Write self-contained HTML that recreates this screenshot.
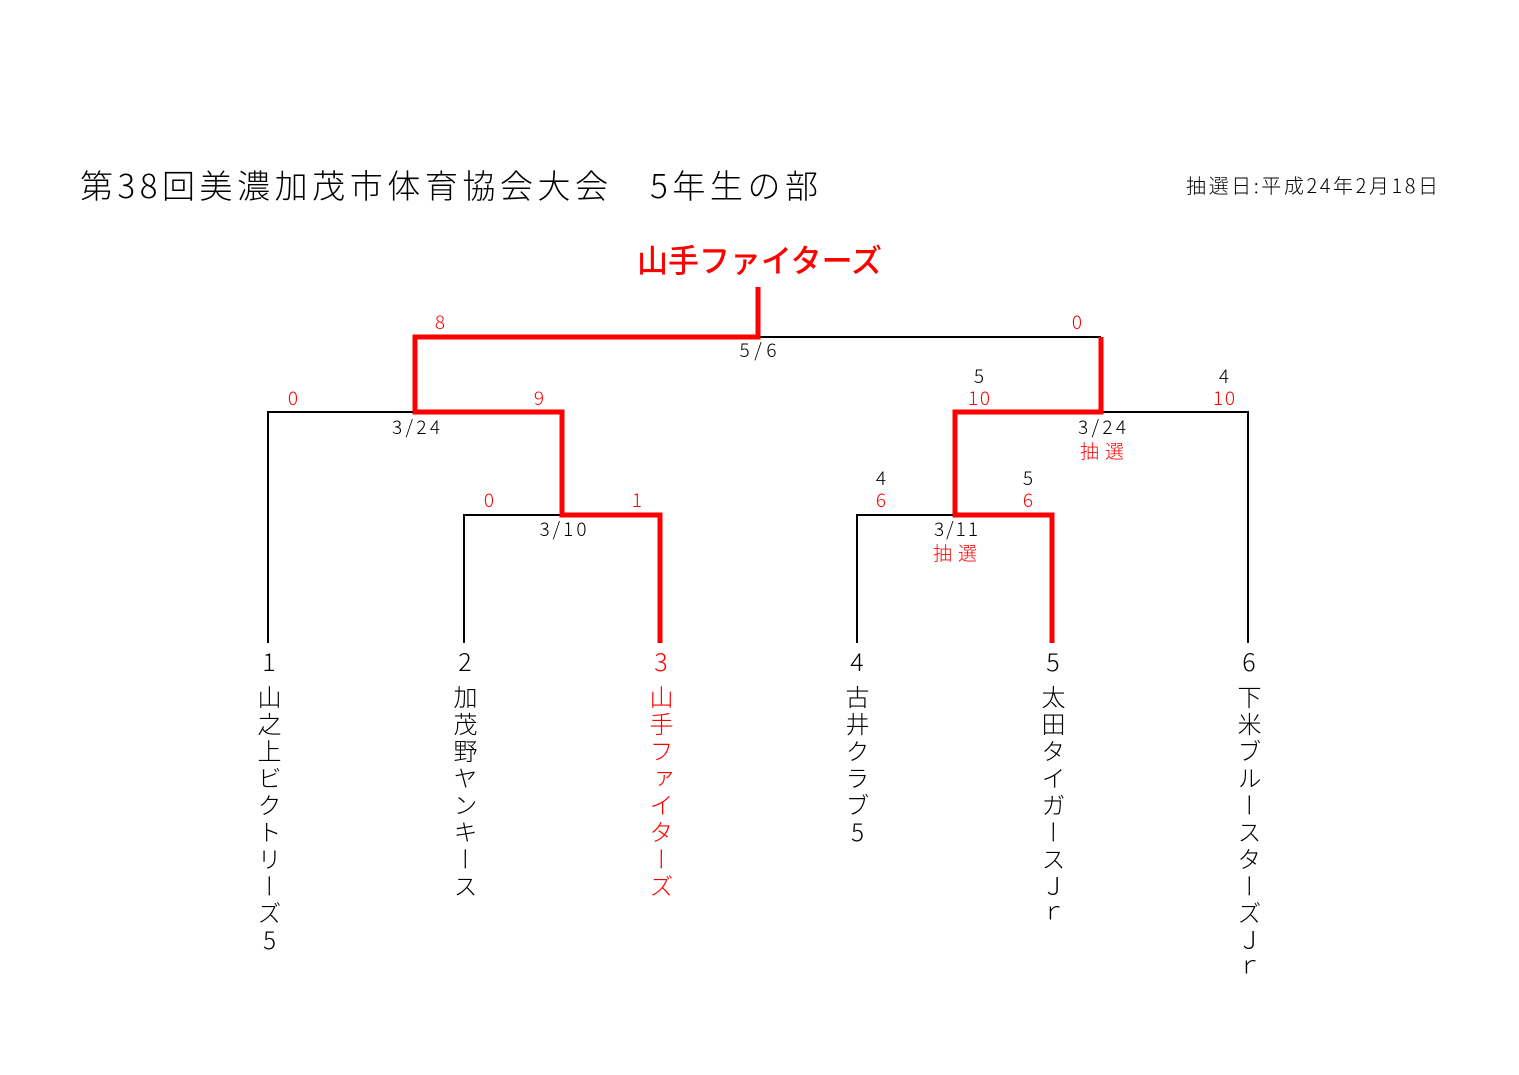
<!DOCTYPE html>
<html><head><meta charset="utf-8">
<style>
html,body{margin:0;padding:0;background:#fff;}
body{width:1519px;height:1075px;position:relative;overflow:hidden;font-family:"Liberation Sans","Noto Sans CJK JP",sans-serif;}
.v{position:absolute;top:685px;writing-mode:vertical-rl;text-orientation:upright;font-size:24px;line-height:24px;letter-spacing:3px;font-family:"Noto Sans CJK JP",sans-serif;font-weight:300;width:24px;}
.r{color:#f00;}
</style></head><body>
<svg width="1519" height="1075" style="position:absolute;left:0;top:0" font-family="'Noto Sans CJK JP',sans-serif">
<text x="80" y="198" font-size="33" font-weight="300" textLength="738" lengthAdjust="spacing">第38回美濃加茂市体育協会大会　5年生の部</text>
<text x="1186" y="193" font-size="20" font-weight="300" textLength="252" lengthAdjust="spacing">抽選日:平成24年2月18日</text>
<text x="637" y="272" font-size="32" fill="#f00" font-weight="500" textLength="245" lengthAdjust="spacingAndGlyphs">山手ファイターズ</text>
<g stroke="#000" stroke-width="2" fill="none">
<polyline points="758,337 1101,337"/>
<polyline points="268,643 268,412 415,412"/>
<polyline points="464,643 464,515 562,515"/>
<polyline points="1101,412 1248,412 1248,643"/>
<polyline points="857,643 857,515 955,515"/>
</g>
<g stroke="#f00" stroke-width="5" fill="none">
<polyline points="758,287 758,337 415,337 415,412 562,412 562,515 660,515 660,643"/>
<polyline points="1101,337 1101,412 955,412 955,515 1052,515 1052,643"/>
</g>
<g font-size="19" text-anchor="middle" font-weight="300">
<text x="440" y="329" fill="#f00">8</text>
<text x="1077" y="329" fill="#f00">0</text>
<text x="758" y="357" textLength="37" lengthAdjust="spacing">5/6</text>
<text x="293" y="405" fill="#f00">0</text>
<text x="539" y="405" fill="#f00">9</text>
<text x="416" y="434" textLength="48" lengthAdjust="spacing">3/24</text>
<text x="489" y="507" fill="#f00">0</text>
<text x="637" y="507" fill="#f00">1</text>
<text x="563" y="536" textLength="47" lengthAdjust="spacing">3/10</text>
<text x="979" y="383">5</text>
<text x="979" y="405" fill="#f00" textLength="22" lengthAdjust="spacing">10</text>
<text x="1224" y="383">4</text>
<text x="1224" y="405" fill="#f00" textLength="22" lengthAdjust="spacing">10</text>
<text x="1102" y="434" textLength="48" lengthAdjust="spacing">3/24</text>
<text x="1102" y="458" fill="#f00" textLength="44" lengthAdjust="spacing">抽選</text>
<text x="881" y="485">4</text>
<text x="881" y="507" fill="#f00">6</text>
<text x="1028" y="485">5</text>
<text x="1028" y="507" fill="#f00">6</text>
<text x="956" y="536" textLength="44" lengthAdjust="spacing">3/11</text>
<text x="955" y="560" fill="#f00" textLength="44" lengthAdjust="spacing">抽選</text>
</g>
<g font-size="25" text-anchor="middle" font-weight="300">
<text x="269" y="671">1</text>
<text x="465" y="671">2</text>
<text x="661" y="671" fill="#f00">3</text>
<text x="857" y="671">4</text>
<text x="1053" y="671">5</text>
<text x="1249" y="671">6</text>
</g>
</svg>
<div class="v" style="left:257px">山之上ビクトリーズ5</div>
<div class="v" style="left:453px">加茂野ヤンキース</div>
<div class="v r" style="left:649px">山手ファイターズ</div>
<div class="v" style="left:845px">古井クラブ5</div>
<div class="v" style="left:1041px">太田タイガースＪｒ</div>
<div class="v" style="left:1237px">下米ブルースターズＪｒ</div>
</body></html>
